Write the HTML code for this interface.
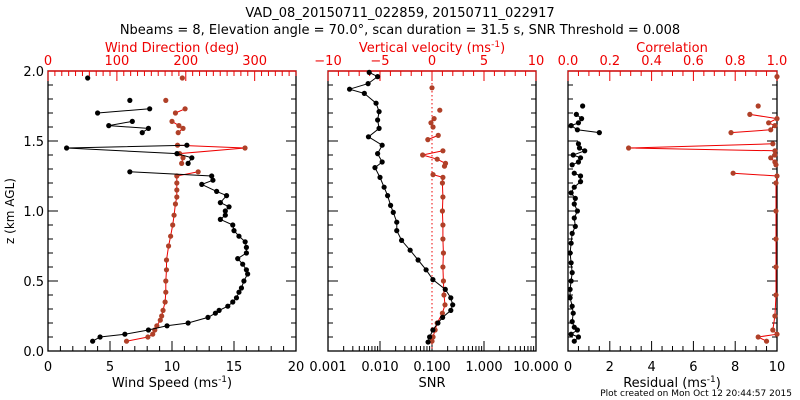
<!DOCTYPE html>
<html><head><meta charset="utf-8"><style>
html,body{margin:0;padding:0;background:#fff}
svg{display:block;font-family:"DejaVu Sans","Liberation Sans",sans-serif}
</style></head><body>
<svg id="chart" width="800" height="400" viewBox="0 0 800 400" xmlns="http://www.w3.org/2000/svg">
<text x="400" y="17" font-size="13" text-anchor="middle">VAD_08_20150711_022859, 20150711_022917</text>
<text x="400" y="34" font-size="13" text-anchor="middle">Nbeams = 8, Elevation angle = 70.0°, scan duration = 31.5 s, SNR Threshold = 0.008</text>
<text transform="translate(14,211) rotate(-90)" font-size="12" text-anchor="middle">z (km AGL)</text>
<text x="792" y="396" font-size="9" text-anchor="end">Plot created on Mon Oct 12 20:44:57 2015</text>
<g id="plots"></g>
</svg>
<script>
// Wind speed (ms-1)
const speedZ=[0.07,0.10,0.12,0.15,0.18,0.20,0.24,0.27,0.29,0.32,0.35,0.38,0.42,0.45,0.50,0.55,0.58,0.62,0.66,0.70,0.74,0.78,0.82,0.86,0.90,0.94,0.97,1.00,1.03,1.06,1.11,1.14,1.19,1.22,1.25,1.28,null,1.34,1.38,1.41,1.45,1.47,null,1.56,1.59,1.61,1.64,null,1.70,1.73,null,1.79,null,1.95];
const speedV=[3.6,4.2,6.2,8.1,9.6,11.3,12.9,13.5,13.8,14.5,14.9,15.2,15.4,15.6,15.8,16.1,16.0,15.7,15.3,16.0,16.0,15.9,15.4,15.0,14.9,13.9,14.3,14.3,14.6,13.9,14.4,13.6,12.4,13.3,13.2,6.6,null,11.3,11.6,10.4,1.5,11.2,null,7.6,8.1,4.9,6.8,null,4.0,8.2,null,6.6,null,3.2];
// Wind direction (deg)
const dirZ=[0.07,0.10,0.12,0.15,0.18,0.22,0.25,0.29,0.35,0.42,0.50,0.58,0.65,0.75,0.82,0.90,0.97,1.05,1.10,1.15,1.20,1.25,1.28,null,1.34,1.38,1.41,1.45,1.47,null,1.56,1.59,1.61,1.64,null,1.70,1.73,null,1.79,null,1.95];
const dirV=[114,145,152,155,158,163,165,167,170,171,171,172,172,175,178,181,183,185,187,187,187,187,218,null,194,196,191,286,188,null,189,196,190,180,null,185,199,null,171,null,195];
// SNR
const snrZ=[0.064,0.10,0.15,0.20,0.24,0.29,0.33,0.38,0.44,0.51,0.58,0.65,0.72,0.79,0.86,0.92,0.99,1.04,1.11,1.17,1.24,1.31,1.35,1.41,1.47,1.53,1.59,1.65,1.71,1.77,1.84,1.87,1.91,1.96,1.99];
const snrV=[0.084,0.09,0.104,0.13,0.16,0.23,0.25,0.23,0.18,0.104,0.077,0.054,0.038,0.026,0.021,0.021,0.018,0.016,0.014,0.012,0.010,0.008,0.011,0.009,0.011,0.006,0.0096,0.009,0.0096,0.0084,0.005,0.0026,0.0059,0.009,0.0062];
// Vertical velocity (ms-1)
const wZ=[0.07,0.10,0.15,0.20,0.27,0.33,0.40,0.50,0.60,0.70,0.80,0.90,1.00,1.10,1.20,1.24,1.26,null,1.32,1.34,1.37,1.40,1.43,null,1.51,1.54,null,1.60,1.63,1.66,null,1.72,null,1.88];
const wV=[0.0,0.1,0.3,0.5,1.0,1.25,1.15,1.1,1.05,1.1,1.05,1.05,1.0,1.05,1.0,1.05,0.1,null,1.2,1.3,0.5,-0.9,1.05,null,-0.4,0.6,null,0.1,-0.1,0.2,null,0.75,null,0.0];
// Residual (ms-1)
const resZ=[0.07,0.10,0.12,0.15,0.17,0.21,0.27,0.32,0.38,0.44,0.50,0.56,0.63,0.70,0.77,0.84,0.89,0.95,1.00,1.05,1.09,1.13,1.17,1.21,1.25,1.27,null,1.33,1.35,1.38,1.40,1.43,1.45,1.48,null,1.56,1.58,1.61,1.63,1.66,1.69,null,1.75];
const resV=[0.3,0.5,0.15,0.45,0.3,0.2,0.25,0.2,0.1,0.1,0.15,0.2,0.15,0.1,0.15,0.2,0.35,0.3,0.45,0.3,0.35,0.15,0.3,0.6,0.6,0.3,null,0.2,0.5,0.6,0.25,0.8,0.55,0.5,null,1.5,0.45,0.15,0.5,0.65,0.4,null,0.7];
// Correlation
const corZ=[0.07,0.10,0.12,0.15,0.25,0.40,0.60,0.80,1.00,1.20,1.25,1.27,null,1.33,1.35,1.38,1.40,1.43,1.45,1.48,null,1.56,1.58,1.61,1.63,1.66,1.69,null,1.75,null,1.96];
const corV=[0.95,0.91,1.0,0.98,0.99,0.995,0.995,0.995,0.995,0.995,1.0,0.79,null,0.995,0.99,0.97,0.99,0.99,0.29,0.98,null,0.78,0.97,0.99,0.96,1.0,0.87,null,0.91,null,1.0];

const NS='http://www.w3.org/2000/svg';
const root=document.getElementById('plots');
const Y0=351,Y1=71;
const yz=z=>Y0+(Y1-Y0)*z/2;
function el(tag,attrs,parent){const e=document.createElementNS(NS,tag);for(const k in attrs)e.setAttribute(k,attrs[k]);(parent||root).appendChild(e);return e;}
const BROWN='#b04028';

function drawSeries(g,zs,vs,fx,lineColor,markColor,name){
  let seg=[];
  const flush=()=>{if(seg.length>1){const p=el('polyline',{points:seg.join(' '),fill:'none',stroke:lineColor,'stroke-width':1},g);

}seg=[];};
  for(let i=0;i<zs.length;i++){
    if(zs[i]===null||vs[i]===null){flush();continue;}
    seg.push(fx(vs[i]).toFixed(1)+','+yz(zs[i]).toFixed(1));
  }
  flush();
  for(let i=0;i<zs.length;i++){
    if(zs[i]===null||vs[i]===null)continue;
    const c=el('circle',{cx:fx(vs[i]),cy:yz(zs[i]),r:2.6,fill:markColor},g);
    
    
  }
}

function frame(name,x0,x1){
  const g=el('g',{});
  
  
  el('rect',{x:x0,y:Y1,width:x1-x0,height:Y0-Y1,fill:'none',stroke:'#000','stroke-width':1.3},g);
  return g;
}
function yTicks(g,x0,x1,labels){
  for(let i=0;i<=20;i++){
    const z=i*0.1,y=yz(z),L=(i%5===0)?10:5;
    el('line',{x1:x0,x2:x0+L,y1:y,y2:y,stroke:'#000'},g);
    el('line',{x1:x1,x2:x1-L,y1:y,y2:y,stroke:'#000'},g);
  }
  if(labels){['0.0','0.5','1.0','1.5','2.0'].forEach((t,i)=>{
    const tx=el('text',{x:x0-4,y:yz(i*0.5)+5,'font-size':13,'text-anchor':'end'},g);tx.textContent=t;
    
    
  });}
}
function linAxis(g,fx,vmin,vmax,minor,majors,labels,y,dir,color){
  for(let v=vmin;v<=vmax+1e-9;v+=minor){
    const isMaj=majors.some(m=>Math.abs(m-v)<1e-6);
    el('line',{x1:fx(v),x2:fx(v),y1:y,y2:y+dir*(isMaj?10:5),stroke:color},g);
  }
  majors.forEach((m,i)=>{
    const tx=el('text',{x:fx(m),y:dir>0?y-6:y+20,'font-size':13,'text-anchor':'middle',fill:color},g);tx.textContent=labels[i];
    
    
  });
}
function title(g,x,y,txt,color,sup){
  const t=el('text',{x:x,y:y,'font-size':13,'text-anchor':'middle',fill:color},g);
  
  
  t.appendChild(document.createTextNode(txt));
  if(sup){const s=el('tspan',{dy:-5,'font-size':9},t);s.textContent='-1';const e=el('tspan',{dy:5},t);e.textContent=')';}
}

// Panel 1
const p1=frame('wind-panel',48,296);
const fs=v=>48+v*(248/20), fd=v=>48+v*(248/360);
yTicks(p1,48,296,true);
linAxis(p1,fs,0,20,1,[0,5,10,15,20],['0','5','10','15','20'],Y0,-1,'#000');
linAxis(p1,fd,0,360,10,[0,100,200,300],['0','100','200','300'],Y1,1,'#e00');
el('line',{x1:48,x2:296,y1:Y1,y2:Y1,stroke:'#e00','stroke-width':1.3},p1);
title(p1,172,387,'Wind Speed (ms','#000',true);
title(p1,172,52,'Wind Direction (deg)','#e00',false);
drawSeries(p1,dirZ,dirV,fd,'#e00',BROWN,'wind-direction');
drawSeries(p1,speedZ,speedV,fs,'#000','#000','wind-speed');

// Panel 2
const p2=frame('snr-panel',328,536);
const fsnr=v=>328+(Math.log10(v)+3)*52, fw=v=>432+v*10.4;
yTicks(p2,328,536,false);
for(let d=-3;d<1;d++){for(let k=1;k<10;k++){const x=fsnr(k*Math.pow(10,d));el('line',{x1:x,x2:x,y1:Y0,y2:Y0-(k===1?10:5),stroke:'#000'},p2);}}
[['0.001',0.001],['0.010',0.01],['0.100',0.1],['1.000',1],['10.000',10]].forEach(a=>{
  const tx=el('text',{x:fsnr(a[1]),y:Y0+20,'font-size':13,'text-anchor':'middle'},p2);tx.textContent=a[0];
  
  
});
el('line',{x1:536,x2:536,y1:Y0,y2:Y0-10,stroke:'#000'},p2);
linAxis(p2,fw,-10,10,1,[-10,-5,0,5,10],['\u221210','\u22125','0','5','10'],Y1,1,'#e00');
el('line',{x1:328,x2:536,y1:Y1,y2:Y1,stroke:'#e00','stroke-width':1.3},p2);
el('line',{x1:fw(0),x2:fw(0),y1:Y1,y2:Y0,stroke:'#e00','stroke-dasharray':'1.5,2.5'},p2);
title(p2,432,387,'SNR','#000',false);
title(p2,432,52,'Vertical velocity (ms','#e00',true);
drawSeries(p2,wZ,wV,fw,'#e00',BROWN,'vertical-velocity');
drawSeries(p2,snrZ,snrV,fsnr,'#000','#000','snr');

// Panel 3
const p3=frame('residual-panel',568,777);
const fr=v=>568+v*20.9, fc=v=>568+v*209;
yTicks(p3,568,777,false);
linAxis(p3,fr,0,10,0.5,[0,2,4,6,8,10],['0','2','4','6','8','10'],Y0,-1,'#000');
linAxis(p3,fc,0,1,0.05,[0,0.2,0.4,0.6,0.8,1],['0.0','0.2','0.4','0.6','0.8','1.0'],Y1,1,'#e00');
el('line',{x1:568,x2:777,y1:Y1,y2:Y1,stroke:'#e00','stroke-width':1.3},p3);
title(p3,672,387,'Residual (ms','#000',true);
title(p3,672,52,'Correlation','#e00',false);
drawSeries(p3,corZ,corV,fc,'#e00',BROWN,'correlation');
drawSeries(p3,resZ,resV,fr,'#000','#000','residual');
</script>
</body></html>
